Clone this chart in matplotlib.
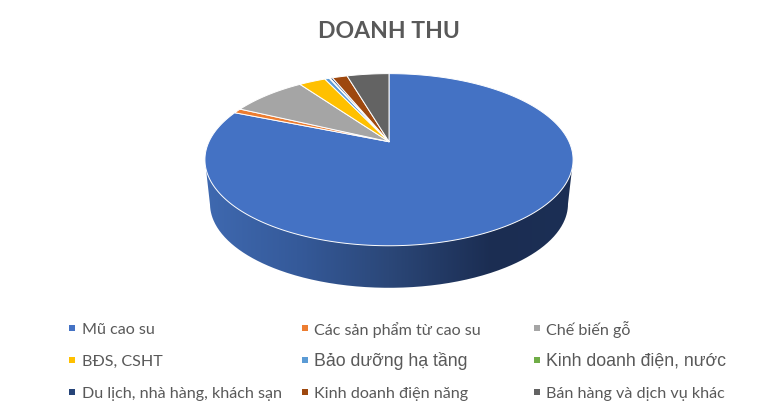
import numpy as np
import matplotlib
matplotlib.use("Agg")
import matplotlib.pyplot as plt
from matplotlib.colors import LinearSegmentedColormap
from matplotlib.patches import PathPatch
from matplotlib.path import Path

title = "DOANH THU"
categories = ["Mũ cao su", "Các sản phẩm từ cao su", "Chế biến gỗ",
              "BĐS, CSHT", "Bảo dưỡng hạ tầng", "Kinh doanh điện, nước",
              "Du lịch, nhà hàng, khách sạn", "Kinh doanh điện năng", "Bán hàng và dịch vụ khác"]
values = [81.0, 0.9, 8.05, 2.85, 0.5, 0.1, 0.25, 1.6, 4.5]
colors = ["#4472C4", "#ED7D31", "#A5A5A5", "#FFC000", "#5B9BD5", "#70AD47", "#264478", "#9E480E", "#636363"]
large_legend = {"Bảo dưỡng hạ tầng", "Kinh doanh điện, nước"}

W, H = 780, 414
fig = plt.figure(figsize=(W / 100, H / 100), dpi=100, facecolor="white")
ax = fig.add_axes([0, 0, 1, 1])
ax.set_xlim(0, W)
ax.set_ylim(H, 0)
ax.axis("off")

# perspective view of the pie's circle
CX, APEX_Y, B, A, K = 389, 142.7, 180, 82.3, 0.209

def project(theta):
    """theta in radians, clockwise from twelve o'clock"""
    X, Y = np.sin(theta), np.cos(theta)
    d = 1 + K * Y
    return CX + B * X / d, APEX_Y - A * Y / d

# side wall
rim = np.linspace(0, 2 * np.pi, 721)
tx, ty = project(rim)
left_i, right_i = np.argmin(tx), np.argmax(tx)
t = np.linspace(np.pi * 1.5, np.pi * 0.5, 300)
low_x = 389 + 179 * np.sin(t)
low_y = 204.8 - 84 * np.cos(t)
wall = np.column_stack([
    np.r_[tx[left_i], low_x, tx[right_i]],
    np.r_[ty[left_i], low_y, ty[right_i]],
])
wall = np.vstack([wall, wall[0]])
clip = PathPatch(Path(wall), transform=ax.transData, facecolor="none", edgecolor="none")
ax.add_patch(clip)
side = LinearSegmentedColormap.from_list("side", [
    (0.0, "#3F69B0"), (0.25, "#355A9A"), (0.5, "#2B4778"), (0.78, "#1B2D52"), (1.0, "#1C2F55")])
img = ax.imshow(np.linspace(0, 1, 256)[None, :], cmap=side, aspect="auto",
                extent=(205, 573, 300, 150), zorder=1)
img.set_clip_path(clip)
ax.set_xlim(0, W)
ax.set_ylim(H, 0)

# top face
edges = np.r_[0, np.cumsum(values)] / np.sum(values) * 2 * np.pi
for v0, v1, c in zip(edges[:-1], edges[1:], colors):
    n = max(3, int((v1 - v0) * 120))
    x, y = project(np.linspace(v0, v1, n))
    ax.fill(np.r_[CX, x], np.r_[APEX_Y, y], facecolor=c, edgecolor="white",
            linewidth=0.7, joinstyle="round", zorder=2)

ax.text(389, 32, title, ha="center", va="center", fontsize=16.6, fontweight="bold",
        color="#595959", family=["Lato", "Open Sans", "DejaVu Sans"])

# legend
col_x = [72, 305, 537]
row_y = [329, 361, 393]
for i, (name, c) in enumerate(zip(categories, colors)):
    x, y = col_x[i % 3], row_y[i // 3]
    ax.scatter([x], [y], marker="s", s=14, color=c, linewidths=0, zorder=3)
    if name in large_legend:
        ax.text(x + 9.5, y + 0.5, name, va="center", ha="left", fontsize=12.75, color="#595959",
                family=["Liberation Sans", "DejaVu Sans"])
    else:
        ax.text(x + 9.5, y + 1, name, va="center", ha="left", fontsize=11.65, color="#595959",
                family=["Lato", "Open Sans", "DejaVu Sans"])

fig.savefig("out.png", dpi=100, facecolor="white")
